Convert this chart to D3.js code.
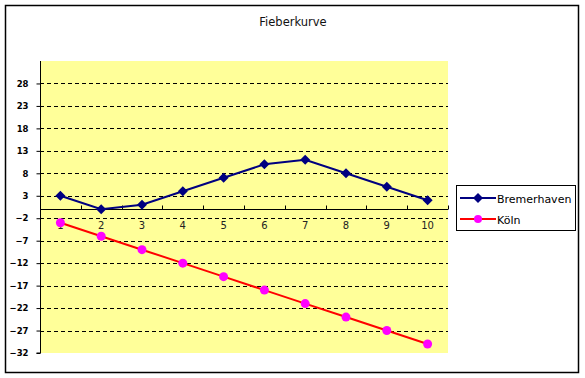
<!DOCTYPE html>
<html><head><meta charset="utf-8">
<script src="https://cdn.jsdelivr.net/npm/d3@7"></script>
<style>body{margin:0;background:#fff}svg{display:block}</style>
</head><body>
<svg id="c" width="585" height="378"></svg>
<script>
const categories = [1,2,3,4,5,6,7,8,9,10];
const bremerhaven = [3,0,1,4,7,10,11,8,5,2];
const koeln = [-3,-6,-9,-12,-15,-18,-21,-24,-27,-30];
const yTicks = [-32,-27,-22,-17,-12,-7,-2,3,8,13,18,23,28];
const seriesNames = ["Bremerhaven","Köln"];
const title = "Fieberkurve";

const svg = d3.select("#c");
const font = "DejaVu Sans, Verdana, sans-serif";
svg.append("rect").attr("x",5.5).attr("y",5.5).attr("width",573).attr("height",367)
  .attr("fill","#fff").attr("stroke","#000").attr("stroke-width",1.5);

const L=40,R=448,T=61,B=353;
const x = d3.scaleBand().domain(categories).range([L,R]);
const y = d3.scaleLinear().domain([-32,33]).range([B,T]);

svg.append("rect").attr("x",L).attr("y",T).attr("width",R-L).attr("height",B-T).attr("fill","#FFFF99");

// gridlines
svg.append("g").selectAll("line").data(yTicks.filter(d=>d>-32)).join("line")
  .attr("x1",L).attr("x2",R).attr("y1",d=>Math.round(y(d))+0.5).attr("y2",d=>Math.round(y(d))+0.5)
  .attr("stroke","#000").attr("stroke-dasharray","4,3").attr("stroke-width",1);

// y axis
const ya = svg.append("g").attr("transform",`translate(${L+0.5},0)`)
  .call(d3.axisLeft(y).tickValues(yTicks).tickSize(4).tickPadding(8));
ya.select(".domain").attr("stroke","#000").attr("d",`M-4,${B}H0V${T}`);
ya.selectAll(".tick line").attr("stroke","#000");
ya.selectAll("text").attr("font-family",font).attr("font-size",8.5).attr("font-weight","bold").attr("fill","#000");

// x axis at y=0
const y0 = Math.round(y(0))+0.5;
const xa = svg.append("g").attr("transform",`translate(0,${y0})`);
xa.append("line").attr("x1",L).attr("x2",R).attr("stroke","#000");
const bounds = categories.map(c=>x(c)).concat([R]);
xa.selectAll("line.t").data(bounds).join("line").attr("class","t")
  .attr("x1",d=>Math.round(d)+0.5).attr("x2",d=>Math.round(d)+0.5).attr("y1",0).attr("y2",-4).attr("stroke","#000");
xa.selectAll("text").data(categories).join("text")
  .attr("x",d=>x(d)+x.bandwidth()/2).attr("y",19).attr("text-anchor","middle")
  .attr("font-family",font).attr("font-size",10).attr("fill","#222").text(d=>d);

const cx = d=>x(d)+x.bandwidth()/2;
const line = d3.line().x((d,i)=>cx(categories[i])).y(d=>y(d));

svg.append("path").datum(koeln).attr("d",line).attr("fill","none").attr("stroke","#FF0000").attr("stroke-width",2);
svg.append("path").datum(bremerhaven).attr("d",line).attr("fill","none").attr("stroke","#000080").attr("stroke-width",2);

svg.append("g").selectAll("circle").data(koeln).join("circle")
  .attr("cx",(d,i)=>cx(categories[i])).attr("cy",d=>y(d)).attr("r",4.5).attr("fill","#FF00FF");
const diamond = "M0,-5L5,0L0,5L-5,0Z";
svg.append("g").selectAll("path").data(bremerhaven).join("path")
  .attr("transform",(d,i)=>`translate(${cx(categories[i])},${y(d)})`).attr("d",diamond).attr("fill","#000080");

svg.append("text").attr("x",293).attr("y",26).attr("text-anchor","middle")
  .attr("font-family",font).attr("font-size",11.5).attr("fill","#111").text(title);

// legend
const lg = svg.append("g");
lg.append("rect").attr("x",456.5).attr("y",185.5).attr("width",119).attr("height",45).attr("fill","#fff").attr("stroke","#000");
const legCols = [["#000080","#000080","d"],["#FF0000","#FF00FF","c"]];
seriesNames.forEach((n,i)=>{
  const yy = 198+i*21;
  lg.append("line").attr("x1",460).attr("x2",496).attr("y1",yy).attr("y2",yy).attr("stroke",legCols[i][0]).attr("stroke-width",2);
  if(legCols[i][2]==="d") lg.append("path").attr("d",diamond).attr("transform",`translate(478,${yy})`).attr("fill",legCols[i][1]);
  else lg.append("circle").attr("cx",478).attr("cy",yy).attr("r",4).attr("fill",legCols[i][1]);
  lg.append("text").attr("x",497).attr("y",yy+4.5).attr("font-family",font).attr("font-size",11).text(n);
});
</script>
</body></html>
